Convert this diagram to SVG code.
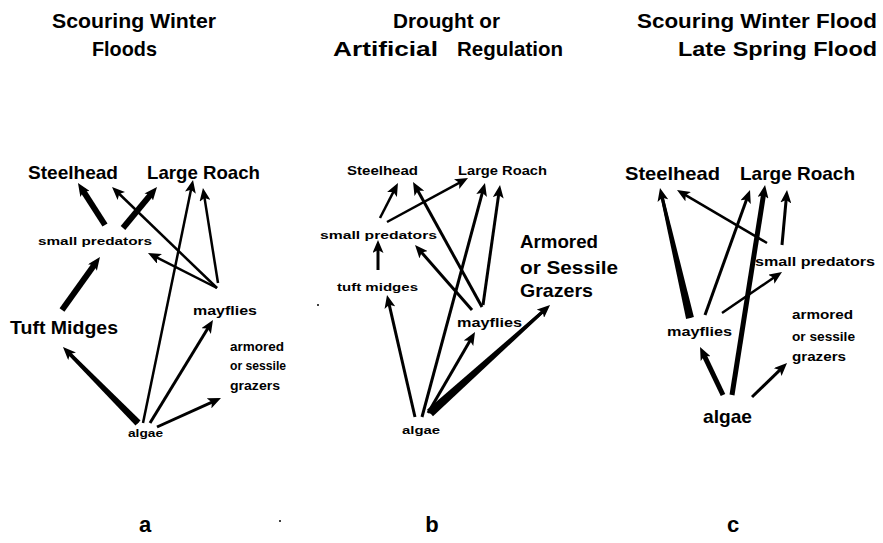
<svg xmlns="http://www.w3.org/2000/svg" width="883" height="543" viewBox="0 0 883 543">
<style>
text{font-family:"Liberation Sans",Arial,Helvetica,sans-serif;font-weight:bold;fill:#000}
.t{font-size:21px}
.big{font-size:19px}
.med{font-size:13px}
.sm{font-size:11px}
.s12{font-size:12px}
.lbl{font-size:22px}
.c{fill:none;stroke:#000;stroke-linecap:butt;marker-end:url(#ah)}
.w2{stroke-width:2.5}
.w3{stroke-width:3}
.w5{stroke-width:5}
.w6{stroke-width:6}
.tp{fill:#000;stroke:none}
</style>
<defs>
<marker id="ah" markerUnits="userSpaceOnUse" markerWidth="13" markerHeight="11" refX="5" refY="5.5" orient="auto">
<path d="M0,0 L13,5.5 L0,11 L3,5.5 z" fill="#000"/>
</marker>
</defs>
<rect width="883" height="543" fill="#fff"/>

<g id="titles">
<text class="t" x="52" y="28" textLength="164" lengthAdjust="spacingAndGlyphs">Scouring Winter</text>
<text class="t" x="92" y="56" textLength="65" lengthAdjust="spacingAndGlyphs">Floods</text>
<text class="t" x="393" y="28" textLength="107" lengthAdjust="spacingAndGlyphs">Drought or</text>
<text class="t"><tspan x="333" y="56" textLength="105" lengthAdjust="spacingAndGlyphs">Artificial</tspan> <tspan x="457" y="56" textLength="106" lengthAdjust="spacingAndGlyphs">Regulation</tspan></text>
<text class="t" x="637" y="28" textLength="240" lengthAdjust="spacingAndGlyphs">Scouring Winter Flood</text>
<text class="t" x="678" y="56" textLength="199" lengthAdjust="spacingAndGlyphs">Late Spring Flood</text>
</g>

<g id="connectors">
<!-- panel a -->
<path class="c w6" d="M105,225 L82.3,189.7"/>
<path class="c w6" d="M123,228 L151.9,193.2"/>
<path class="c w2" d="M217,288 L117.8,192.5"/>
<path class="c w2" d="M217,288 L155.1,256.6"/>
<path class="c w2" d="M218,283 L204.2,195.9"/>
<path class="c w2" d="M143,423 L191.4,187.8"/>
<path class="c w6" d="M62,310 L95.3,263.5"/>
<polygon class="tp" points="140.5,420.5 69.9,351.4 67.3,354.0 135.5,425.5"/>
<path class="c w3" d="M138,423 L68.6,352.7"/>
<path class="c w3" d="M150,423 L208.8,326.8"/>
<path class="c w3" d="M157,427 L213.7,401.3"/>
<!-- panel b -->
<path class="c w2" d="M380,218 L394.3,190.1"/>
<path class="c w2" d="M387,222 L461,181.8"/>
<path class="c w3" d="M378,270 L378,248"/>
<path class="c w3" d="M472,310 L420.3,251"/>
<path class="c w3" d="M482,307 L416.9,189"/>
<path class="c w3" d="M483,305 L498.9,192.9"/>
<path class="c w3" d="M422,417 L482.9,190.7"/>
<path class="c w3" d="M415,417 L388.8,302.8"/>
<path class="c w3" d="M428,413 L471,338.9"/>
<polygon class="tp" points="433.0,416.3 545.1,311.5 543.1,309.3 427.0,409.7"/>
<path class="c w3" d="M430,413 L544.1,310.4"/>
<!-- panel c -->
<polygon class="tp" points="693.9,317.1 663.3,195.5 660.3,196.1 686.1,318.9"/>
<path class="c w3" d="M690,318 L661.8,195.8"/>
<path class="c w3" d="M705,315 L747.3,197.5"/>
<path class="c w2" d="M722,313 L775.4,276.5"/>
<path class="c w2" d="M767,243 L683.9,194.1"/>
<path class="c w3" d="M782,245 L786.3,198"/>
<path class="c w5" d="M732,395 L763.8,192.9"/>
<path class="c w5" d="M723,395 L703.5,354.2"/>
<path class="c w3" d="M752,397 L781.3,368.6"/>
</g>

<!-- panel a nodes -->
<g id="a-steelhead"><text class="big" x="28" y="179" textLength="90" lengthAdjust="spacingAndGlyphs">Steelhead</text></g>
<g id="a-large-roach"><text class="big" x="147" y="179" textLength="113" lengthAdjust="spacingAndGlyphs">Large Roach</text></g>
<g id="a-small-predators"><text class="sm" x="38" y="245" textLength="114" lengthAdjust="spacingAndGlyphs">small predators</text></g>
<g id="a-tuft-midges"><text class="big" x="10" y="334" textLength="108" lengthAdjust="spacingAndGlyphs">Tuft Midges</text></g>
<g id="a-mayflies"><text class="med" x="193" y="315" textLength="64" lengthAdjust="spacingAndGlyphs">mayflies</text></g>
<g id="a-grazers">
<text class="s12" x="230" y="351" textLength="54" lengthAdjust="spacingAndGlyphs">armored</text>
<text class="s12" x="230" y="370" textLength="56" lengthAdjust="spacingAndGlyphs">or sessile</text>
<text class="s12" x="230" y="390" textLength="50" lengthAdjust="spacingAndGlyphs">grazers</text>
</g>
<g id="a-algae"><text class="sm" x="128" y="437" textLength="35" lengthAdjust="spacingAndGlyphs">algae</text></g>

<!-- panel b nodes -->
<g id="b-steelhead"><text class="med" x="347" y="175" textLength="71" lengthAdjust="spacingAndGlyphs">Steelhead</text></g>
<g id="b-large-roach"><text class="med" x="458" y="175" textLength="89" lengthAdjust="spacingAndGlyphs">Large Roach</text></g>
<g id="b-small-predators"><text class="sm" x="320" y="239" textLength="117" lengthAdjust="spacingAndGlyphs">small predators</text></g>
<g id="b-tuft-midges"><text class="sm" x="337" y="291" textLength="81" lengthAdjust="spacingAndGlyphs">tuft midges</text></g>
<g id="b-mayflies"><text class="med" x="457" y="327" textLength="65" lengthAdjust="spacingAndGlyphs">mayflies</text></g>
<g id="b-grazers">
<text class="big" x="520" y="248" textLength="78" lengthAdjust="spacingAndGlyphs">Armored</text>
<text class="big" x="520" y="274" textLength="98" lengthAdjust="spacingAndGlyphs">or Sessile</text>
<text class="big" x="520" y="297" textLength="73" lengthAdjust="spacingAndGlyphs">Grazers</text>
</g>
<g id="b-algae"><text class="sm" x="402" y="434" textLength="38" lengthAdjust="spacingAndGlyphs">algae</text></g>

<!-- panel c nodes -->
<g id="c-steelhead"><text class="big" x="625" y="180" textLength="95" lengthAdjust="spacingAndGlyphs">Steelhead</text></g>
<g id="c-large-roach"><text class="big" x="740" y="180" textLength="115" lengthAdjust="spacingAndGlyphs">Large Roach</text></g>
<g id="c-small-predators"><text class="s12" x="755" y="266" textLength="120" lengthAdjust="spacingAndGlyphs">small predators</text></g>
<g id="c-mayflies"><text class="med" x="667" y="336" textLength="65" lengthAdjust="spacingAndGlyphs">mayflies</text></g>
<g id="c-grazers">
<text class="s12" x="792" y="319" textLength="61" lengthAdjust="spacingAndGlyphs">armored</text>
<text class="s12" x="792" y="341" textLength="63" lengthAdjust="spacingAndGlyphs">or sessile</text>
<text class="s12" x="792" y="361" textLength="54" lengthAdjust="spacingAndGlyphs">grazers</text>
</g>
<g id="c-algae"><text class="big" x="703" y="423" textLength="49" lengthAdjust="spacingAndGlyphs">algae</text></g>

<g id="panel-labels">
<text class="lbl" x="145" y="532" text-anchor="middle">a</text>
<text class="lbl" x="432" y="532" text-anchor="middle">b</text>
<text class="lbl" x="733" y="532" text-anchor="middle">c</text>
</g>
<circle cx="318" cy="305" r="1" fill="#000"/>
<circle cx="280" cy="521" r="1" fill="#000"/>
</svg>
